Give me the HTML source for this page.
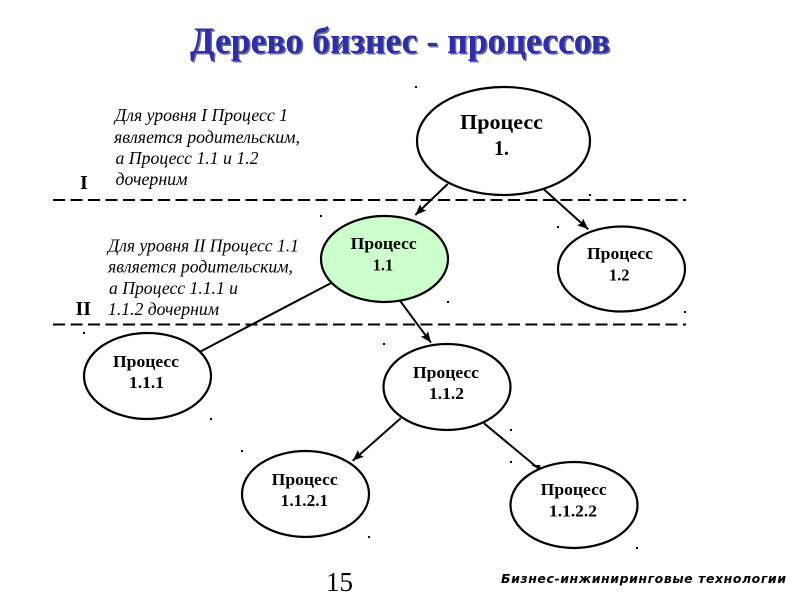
<!DOCTYPE html>
<html lang="ru">
<head>
<meta charset="utf-8">
<title>Дерево бизнес - процессов</title>
<style>
html,body{margin:0;padding:0;background:#fff;width:800px;height:600px;overflow:hidden}
svg{display:block}
.t{font-family:"Liberation Serif",serif}
.n{font-family:"Liberation Serif",serif;font-weight:bold;font-size:17px;fill:#000}
.n2{font-family:"Liberation Serif",serif;font-weight:bold;font-size:21px;fill:#000}
.i{font-family:"Liberation Serif",serif;font-style:italic;font-size:17.5px;fill:#000}
.r{font-family:"Liberation Serif",serif;font-weight:bold;font-size:20px;fill:#000}
</style>
</head>
<body>
<svg width="800" height="600" viewBox="0 0 800 600" xmlns="http://www.w3.org/2000/svg">
<defs>
<marker id="a" markerUnits="userSpaceOnUse" markerWidth="12" markerHeight="10" refX="11" refY="4.5" orient="auto">
<path d="M0 0L11 4.5L0 9L2 4.5Z" fill="#000"/>
</marker>
</defs>
<rect width="800" height="600" fill="#fff"/>

<text class="t" x="191.5" y="54.5" font-size="37" font-weight="bold" fill="#70708c" textLength="420" lengthAdjust="spacingAndGlyphs">Дерево бизнес - процессов</text>
<text class="t" x="190" y="53" font-size="37" font-weight="bold" fill="#2e2eaa" textLength="420" lengthAdjust="spacingAndGlyphs">Дерево бизнес - процессов</text>

<g stroke="#000" stroke-width="2" stroke-dasharray="12 5.5" fill="none">
<line x1="53" y1="200" x2="686" y2="200"/>
<line x1="53" y1="324.5" x2="686" y2="324.5"/>
</g>

<g stroke="#000" stroke-width="2" fill="none">
<line x1="447.7" y1="184" x2="415.3" y2="215" marker-end="url(#a)"/>
<line x1="542.7" y1="188.3" x2="588.3" y2="229.3" marker-end="url(#a)"/>
<line x1="400" y1="300.7" x2="431" y2="342.7" marker-end="url(#a)"/>
<line x1="330.7" y1="283.3" x2="200" y2="351.7"/>
<line x1="400.7" y1="418.3" x2="352.7" y2="460.7" marker-end="url(#a)"/>
<line x1="484" y1="423.3" x2="539" y2="469"/>
</g>
<path d="M531 465L540 465L541 470Z" fill="#000"/>

<g stroke="#000" stroke-width="2.2" fill="#fff">
<ellipse cx="503.5" cy="141" rx="86.5" ry="54"/>
<ellipse cx="384.5" cy="259" rx="63.5" ry="43" fill="#ccffcc"/>
<ellipse cx="621.5" cy="269" rx="63.5" ry="42.5"/>
<ellipse cx="147.5" cy="376" rx="63.5" ry="43"/>
<ellipse cx="447" cy="387" rx="63.5" ry="43"/>
<ellipse cx="305.5" cy="494" rx="63.5" ry="43"/>
<ellipse cx="574" cy="505" rx="63.5" ry="43"/>
</g>

<g fill="#000">
<rect x="415" y="86" width="2" height="2"/>
<rect x="320" y="215" width="2" height="2"/>
<rect x="589" y="194" width="2" height="2"/>
<rect x="557" y="226" width="2" height="2"/>
<rect x="447" y="301" width="2" height="2"/>
<rect x="684" y="311" width="2" height="2"/>
<rect x="83" y="332" width="2" height="2"/>
<rect x="210" y="418" width="2" height="2"/>
<rect x="241" y="450" width="2" height="2"/>
<rect x="368" y="536" width="2" height="2"/>
<rect x="383" y="343" width="2" height="2"/>
<rect x="510" y="429" width="2" height="2"/>
<rect x="510" y="461" width="2" height="2"/>
<rect x="636" y="547" width="2" height="2"/>
</g>

<text class="n2" x="460" y="129" textLength="83" lengthAdjust="spacingAndGlyphs">Процесс</text>
<text class="n2" x="494" y="155" textLength="15" lengthAdjust="spacingAndGlyphs">1.</text>
<text class="n" x="350.7" y="249" textLength="66" lengthAdjust="spacingAndGlyphs">Процесс</text>
<text class="n" x="372.7" y="270.5" textLength="20.5" lengthAdjust="spacingAndGlyphs">1.1</text>
<text class="n" x="587" y="259" textLength="66" lengthAdjust="spacingAndGlyphs">Процесс</text>
<text class="n" x="609" y="280.5" textLength="20.5" lengthAdjust="spacingAndGlyphs">1.2</text>
<text class="n" x="113" y="367" textLength="66" lengthAdjust="spacingAndGlyphs">Процесс</text>
<text class="n" x="129" y="388" textLength="35" lengthAdjust="spacingAndGlyphs">1.1.1</text>
<text class="n" x="413" y="378" textLength="66" lengthAdjust="spacingAndGlyphs">Процесс</text>
<text class="n" x="429" y="399" textLength="35" lengthAdjust="spacingAndGlyphs">1.1.2</text>
<text class="n" x="271.7" y="485" textLength="66" lengthAdjust="spacingAndGlyphs">Процесс</text>
<text class="n" x="280.7" y="506" textLength="47.5" lengthAdjust="spacingAndGlyphs">1.1.2.1</text>
<text class="n" x="540.7" y="495" textLength="66" lengthAdjust="spacingAndGlyphs">Процесс</text>
<text class="n" x="549" y="516.5" textLength="48" lengthAdjust="spacingAndGlyphs">1.1.2.2</text>

<text class="i" x="115" y="121" textLength="173" lengthAdjust="spacingAndGlyphs">Для уровня I Процесс 1</text>
<text class="i" x="114" y="143" textLength="186" lengthAdjust="spacingAndGlyphs">является родительским,</text>
<text class="i" x="115.5" y="164" textLength="143" lengthAdjust="spacingAndGlyphs">а Процесс 1.1 и 1.2</text>
<text class="i" x="115.5" y="185" textLength="72" lengthAdjust="spacingAndGlyphs">дочерним</text>

<text class="i" x="108" y="251.5" textLength="191" lengthAdjust="spacingAndGlyphs">Для уровня II Процесс 1.1</text>
<text class="i" x="108" y="272.5" textLength="185" lengthAdjust="spacingAndGlyphs">является родительским,</text>
<text class="i" x="109" y="294" textLength="129" lengthAdjust="spacingAndGlyphs">а Процесс 1.1.1 и</text>
<text class="i" x="108" y="315" textLength="111" lengthAdjust="spacingAndGlyphs">1.1.2 дочерним</text>

<text class="r" x="80" y="189">I</text>
<text class="r" x="75.5" y="315">II</text>

<text class="t" x="326" y="591" font-size="27" fill="#000" textLength="27" lengthAdjust="spacingAndGlyphs">15</text>
<text x="501" y="583" font-family="'DejaVu Sans',sans-serif" font-weight="bold" font-style="italic" font-size="12.5" fill="#000" textLength="285" lengthAdjust="spacing">Бизнес-инжиниринговые технологии</text>
</svg>
</body>
</html>
